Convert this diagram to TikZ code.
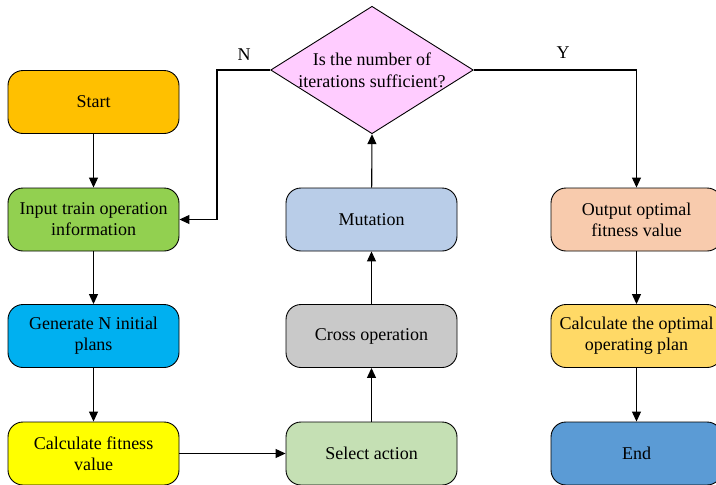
\documentclass[tikz,border=0pt]{standalone}
\usepackage{fontspec}
\setmainfont{Liberation Serif}
\usetikzlibrary{arrows.meta,shapes.geometric}
\definecolor{cStart}{HTML}{FFC000}
\definecolor{cInput}{HTML}{92D050}
\definecolor{cGen}{HTML}{00B0F0}
\definecolor{cFit}{HTML}{FFFF00}
\definecolor{cSel}{HTML}{C5E0B4}
\definecolor{cCross}{HTML}{C9C9C9}
\definecolor{cMut}{HTML}{B9CDE8}
\definecolor{cOut}{HTML}{F8CBAD}
\definecolor{cOpt}{HTML}{FFD966}
\definecolor{cEnd}{HTML}{5B9BD5}
\definecolor{cDec}{HTML}{FFCCFF}
\tikzset{
  box/.style={draw=black, line width=0.9pt, rounded corners=15pt,
    minimum width=171pt, minimum height=63pt, align=center,
    font=\fontsize{18}{21}\selectfont, inner sep=1pt},
  flow/.style={line width=1.1pt, -{Triangle[length=10pt,width=9pt]}},
  lbl/.style={font=\fontsize{18}{20}\selectfont}
}
\begin{document}
\begin{tikzpicture}[x=1pt,y=-1pt]
\useasboundingbox (0,0) rectangle (716,485);
\clip (0,0) rectangle (716,485);
\fill[white] (0,0) rectangle (716,485);

% left column
\node[box, fill=cStart] (start) at (93.5,102) {Start};
\node[box, fill=cInput] (input) at (93.5,219.5) {Input train operation\\information};
\node[box, fill=cGen]   (gen)   at (93.5,336) {Generate N initial\\plans};
\node[box, fill=cFit]   (fit)   at (93.5,453.5) {Calculate fitness\\value};

% middle column
\node[box, fill=cSel]   (sel)   at (371.5,453.5) {Select action};
\node[box, fill=cCross] (cross) at (371.5,336) {Cross operation};
\node[box, fill=cMut]   (mut)   at (371.5,219.5) {Mutation};

% decision
\node[draw=black, line width=0.9pt, fill=cDec, diamond, aspect=1.59,
      minimum width=200pt, minimum height=126pt, inner sep=0pt, align=center,
      font=\fontsize{18}{22}\selectfont] (dec) at (372,70)
      {Is the number of\\iterations sufficient?};

% right column
\node[box, fill=cOut] (out) at (636.5,219.5) {Output optimal\\fitness value};
\node[box, fill=cOpt] (opt) at (636.5,336) {Calculate the optimal\\operating plan};
\node[box, fill=cEnd] (end) at (636.5,453.5) {End};

% connectors
\draw[flow] (start) -- (input);
\draw[flow] (input) -- (gen);
\draw[flow] (gen) -- (fit);
\draw[flow] (fit) -- (sel);
\draw[flow] (sel) -- (cross);
\draw[flow] (cross) -- (mut);
\draw[flow] (mut) -- (dec.south);
\draw[flow] (dec.west) -- (217,70) |- (input.east);
\draw[flow] (dec.east) -| (out.north);
\draw[flow] (out) -- (opt);
\draw[flow] (opt) -- (end);

\node[lbl] (nlab) at (244,55) {N};
\node[lbl] (ylab) at (563,53) {Y};
\end{tikzpicture}
\end{document}
